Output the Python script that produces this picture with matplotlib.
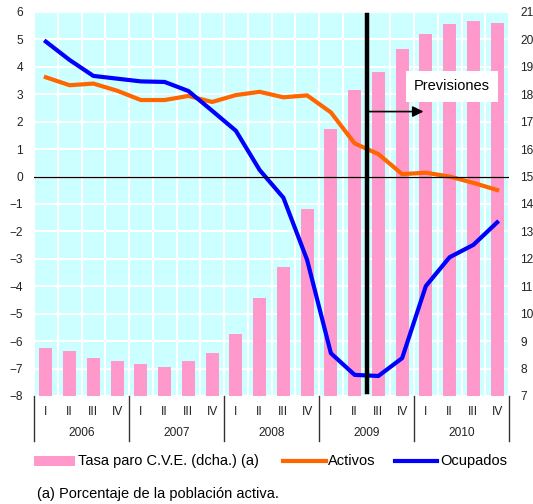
import matplotlib
matplotlib.use('Agg')
import matplotlib.pyplot as plt
from matplotlib.lines import Line2D
from matplotlib.patches import Rectangle

plt.rcParams['font.family'] = ['Liberation Sans', 'DejaVu Sans']

years = ['2006', '2007', '2008', '2009', '2010']
quarters = ['I', 'II', 'III', 'IV']

tasa_paro = [8.75, 8.64, 8.39, 8.28, 8.17, 8.06, 8.28, 8.57,
             9.26, 10.58, 11.70, 13.82, 16.74, 18.17, 18.82, 19.66,
             20.18, 20.58, 20.69, 20.61]
activos = [3.62, 3.33, 3.39, 3.13, 2.79, 2.79, 2.94, 2.72,
           2.97, 3.09, 2.89, 2.96, 2.34, 1.21, 0.82, 0.09,
           0.14, 0.00, -0.23, -0.49]
ocupados = [4.92, 4.25, 3.67, 3.57, 3.47, 3.45, 3.12, 2.40,
            1.67, 0.24, -0.77, -3.04, -6.44, -7.23, -7.27, -6.62,
            -3.99, -2.94, -2.49, -1.67]

W, H = 533, 504
fig = plt.figure(figsize=(W / 100, H / 100), dpi=100)
left, right, top, bottom = 34, 509, 12, 396
ax = fig.add_axes([left / W, 1 - bottom / H, (right - left) / W, (bottom - top) / H])
ax2 = ax.twinx()

n = len(tasa_paro)
x = list(range(n))

# bars on the first axes (right scale), lines on the twin (left scale)
ax.set_facecolor('#ccffff')
ax.bar(x, tasa_paro, width=0.55, color='#ff99cc', zorder=2)
ax.set_ylim(7, 21)
ax.set_xlim(-0.5, n - 0.5)
ax.set_yticks(range(7, 22))
ax.yaxis.tick_right()
ax.set_axisbelow(True)
ax.grid(axis='y', color='white', lw=1.5, zorder=0)
for b in range(n + 1):
    ax.axvline(b - 0.5, color='white', lw=1.5, zorder=1)

ax2.patch.set_visible(False)
ax2.plot(x, activos, color='#ff6600', lw=3, solid_joinstyle='round')
ax2.plot(x, ocupados, color='#0000ff', lw=3, solid_joinstyle='round')
ax2.set_ylim(-8, 6)
ax2.set_yticks(range(-8, 7))
ax2.yaxis.tick_left()
ax2.axhline(0, color='black', lw=0.9)
ax2.axvline(13.5, ymin=0.01, ymax=0.992, color='black', lw=3.2)

ax2.annotate('', xy=(15.9, 2.37), xytext=(13.6, 2.37),
             arrowprops=dict(arrowstyle='-|>', color='black', lw=1.2,
                             mutation_scale=16, shrinkA=0, shrinkB=0))
ax2.add_patch(Rectangle((15.15, 2.73), 3.87, 1.12, facecolor='white',
                        edgecolor='none', zorder=5, clip_on=False))
ax2.text(17.08, 3.29, 'Previsiones', ha='center', va='center',
         fontsize=10.5, zorder=6)

for a in (ax, ax2):
    for s in a.spines.values():
        s.set_visible(False)
    a.tick_params(axis='y', length=0, pad=8, labelsize=8.6, colors='#222222')

ax.set_xticks(x)
ax.set_xticklabels(quarters * len(years))
ax.tick_params(axis='x', length=0, pad=7, labelsize=8.6, colors='#222222')

# year labels and separators below the axis
def fy(py):
    return 1 - py / H

for i, yr in enumerate(years):
    xc = (left + (i * 4 + 2) * (right - left) / n) / W
    fig.text(xc, fy(433), yr, ha='center', va='center', fontsize=8.6, color='#222222')
for i in range(len(years) + 1):
    xs = (left + i * 4 * (right - left) / n) / W
    fig.add_artist(Line2D([xs, xs], [fy(396), fy(441)], color='#333333', lw=1))

# legend
fig.add_artist(Rectangle((34 / W, fy(466)), 41 / W, 10 / H, facecolor='#ff99cc',
                         edgecolor='none', transform=fig.transFigure))
fig.text(78 / W, fy(461), 'Tasa paro C.V.E. (dcha.) (a)', va='center', fontsize=10.5)
fig.add_artist(Line2D([283 / W, 326 / W], [fy(461), fy(461)], color='#ff6600', lw=3))
fig.text(328 / W, fy(461), 'Activos', va='center', fontsize=10.5)
fig.add_artist(Line2D([395 / W, 437 / W], [fy(461), fy(461)], color='#0000ff', lw=3))
fig.text(440 / W, fy(461), 'Ocupados', va='center', fontsize=10.5)

fig.text(37 / W, fy(494), '(a) Porcentaje de la población activa.', va='center', fontsize=10.5)

plt.savefig('out.png', dpi=100)
